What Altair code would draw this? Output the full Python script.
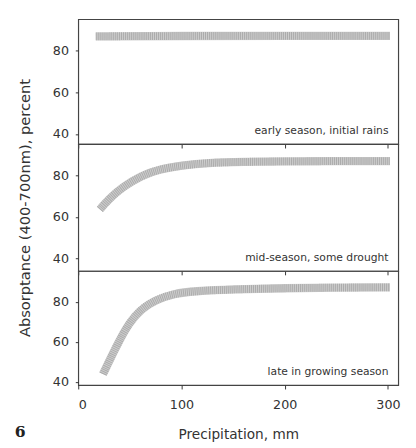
import altair as alt
import pandas as pd

# ---- data ----
early_x = [17, 100, 200, 302]
early_y = [86.8, 87.0, 87.0, 87.0]

mid_x = [21, 30, 43, 62, 78, 100, 125, 160, 200, 250, 302]
mid_y = [63.6, 68.7, 74.4, 80.0, 82.8, 84.7, 86.0, 86.5, 86.7, 86.8, 86.8]

late_x = [24, 37, 49, 61, 74.5, 93, 112, 150, 200, 250, 302]
late_y = [44.0, 58.0, 69.5, 76.5, 81.0, 84.2, 85.4, 86.3, 86.9, 87.2, 87.3]

x_ticks = [0, 100, 200, 300]
y_ticks = [40, 60, 80]
labels = ["early season, initial rains", "mid-season, some drought", "late in growing season"]

W = 328
FONT = "DejaVu Sans"
INK = "#333333"

xscale = alt.Scale(domain=[0, 310], nice=False)


def panel(xs, ys, label, ydom, h, bottom=False, ytitle=None):
    df = pd.DataFrame({"x": xs, "y": ys})
    xaxis_kw = dict(values=x_ticks, grid=False, domain=False, ticks=True, tickSize=4,
                    labels=bottom, labelFontSize=13, labelPadding=10, labelColor=INK,
                    titleFontSize=14, titleFontWeight="normal", titlePadding=17,
                    titleColor=INK, tickColor=INK)
    xaxis_kw["title"] = "Precipitation, mm" if bottom else ""
    yaxis_kw = dict(values=y_ticks, grid=False, domain=False, tickSize=3, tickColor=INK,
                    labelFontSize=13, labelPadding=7, labelColor=INK, titleFontSize=15,
                    titleFontWeight="normal", titleColor=INK, titlePadding=20)
    yaxis_kw["title"] = ytitle if ytitle else ""
    enc_x = alt.X("x:Q", scale=xscale, axis=alt.Axis(**xaxis_kw))
    enc_y = alt.Y("y:Q", scale=alt.Scale(domain=ydom, nice=False, zero=False),
                  axis=alt.Axis(**yaxis_kw))
    band = alt.Chart(df).mark_line(strokeWidth=8.5, color="#cdcdcd", interpolate="basis",
                                   strokeCap="butt").encode(x=enc_x, y=enc_y)
    tex = alt.Chart(df).mark_line(strokeWidth=8, color="#ababab", interpolate="basis",
                                  strokeDash=[1, 1], strokeCap="butt").encode(x=enc_x, y=enc_y)
    txt = alt.Chart(pd.DataFrame({"t": [label]})).mark_text(
        align="right", baseline="bottom", fontSize=11, font=FONT, color=INK
    ).encode(x=alt.value(W - 10), y=alt.value(h - 8), text="t:N")
    layers = [band, tex, txt]
    if bottom:
        fig = alt.Chart(pd.DataFrame({"t": ["6"]})).mark_text(
            align="left", baseline="middle", fontSize=16, font="DejaVu Serif",
            fontWeight="bold", color="#222"
        ).encode(x=alt.value(-65), y=alt.value(h + 48), text="t:N")
        layers.append(fig)
    return alt.layer(*layers).properties(width=W, height=h)


p1 = panel(early_x, early_y, labels[0], [35.2, 95], 128)
p2 = panel(mid_x, mid_y, labels[1], [34.0, 95], 130,
           ytitle="Absorptance (400-700nm), percent")
p3 = panel(late_x, late_y, labels[2], [38.5, 95.5], 117, bottom=True)

chart = alt.vconcat(p1, p2, p3, spacing=0, bounds="flush").properties(
    padding={"left": 6, "top": 5, "right": 0, "bottom": 0}
).configure(font=FONT).configure_view(
    stroke="#444444", strokeWidth=1.2
)

chart.save("out.html", embed_options={"renderer": "svg", "actions": False})
